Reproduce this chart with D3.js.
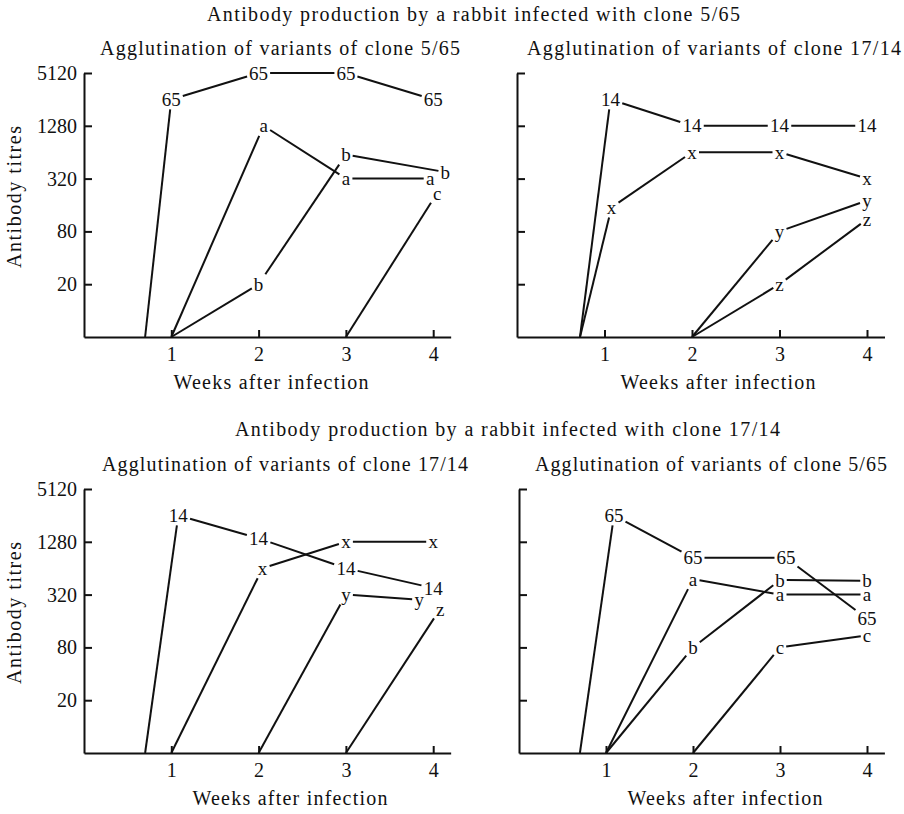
<!DOCTYPE html>
<html>
<head>
<meta charset="utf-8">
<script src="https://cdn.jsdelivr.net/npm/d3@7"></script>
<style>
  body { margin: 0; background: #fff; }
  svg text { font-family: "Liberation Serif", "Times New Roman", serif; fill: #111; }
</style>
</head>
<body>
<svg id="chart" width="904" height="814"></svg>
<script>
// weeks on the x axis and titre ticks on the y axis
const weeks = [1, 2, 3, 4]
const titreTicks = [20, 80, 320, 1280, 5120]

// rabbit infected with clone 5/65 -- variants of 5/65
const topLeftNames = ["65", "a", "b", "c"]
const topLeftStart = [0.7, 1, 1, 3]
const topLeftValues = [
    [2560, 5120, 5120, 2560],
    [null, 1280, 320, 320],
    [null, 20, 600, 380],
    [null, null, null, 220]
]
// rabbit infected with clone 5/65 -- variants of 17/14
const topRightNames = ["14", "x", "y", "z"]
const topRightStart = [0.72, 0.72, 2, 2]
const topRightValues = [
    [2560, 1280, 1280, 1280],
    [150, 640, 640, 320],
    [null, null, 80, 180],
    [null, null, 20, 110]
]
// rabbit infected with clone 17/14 -- variants of 17/14
const botLeftNames = ["14", "x", "y", "z"]
const botLeftStart = [0.7, 1, 2, 3]
const botLeftValues = [
    [2560, 1400, 640, 380],
    [null, 640, 1280, 1280],
    [null, null, 320, 280],
    [null, null, null, 220]
]
// rabbit infected with clone 17/14 -- variants of 5/65
const botRightNames = ["65", "a", "b", "c"]
const botRightStart = [0.7, 1, 1, 2]
const botRightValues = [
    [2560, 840, 840, 170],
    [null, 480, 320, 320],
    [null, 80, 470, 460],
    [null, null, 80, 110]
]

var svg = d3.select("#chart")

// small sideways nudges of labels so they don't sit on top of each other
var nudges = {
    tl: { "a1": 5, "a3": -3, "b3": 12, "c3": 4 },
    tr: { "140": 6, "x0": 7 },
    bl: { "140": 7, "x1": 4, "y3": -14, "z3": 7 },
    br: { "650": 8, "652": 6 }
}

function trim(p, q, hw, hh) {
    // move p toward q until it leaves the box round the label at p
    let dx = q[0] - p[0], dy = q[1] - p[1]
    let t = Math.min(hw / Math.max(Math.abs(dx), 1e-6), hh / Math.max(Math.abs(dy), 1e-6))
    return [p[0] + dx * t, p[1] + dy * t]
}

function drawPanel(opt) {
    var g = svg.append("g")
        .attr("transform", "translate(" + opt.left + "," + opt.top + ")")

    var x = d3.scaleLinear().domain([0, 4.2]).range([0, 4.2 * opt.step])
    var y = d3.scaleLog().base(2).domain([5, 5120]).range([264, 0])

    var yAxis = d3.axisLeft(y)
        .tickValues(titreTicks)
        .tickFormat(d3.format("d"))
        .tickSizeInner(-8)
        .tickSizeOuter(0)
        .tickPadding(7)
    if (!opt.yLabels) yAxis.tickFormat("")

    g.append("g").call(yAxis)
    g.append("g")
        .attr("transform", "translate(0,264)")
        .call(d3.axisBottom(x).tickValues(weeks).tickFormat(d3.format("d"))
            .tickSizeInner(-7).tickSizeOuter(0).tickPadding(10))

    g.selectAll(".domain, .tick line")
        .style("stroke", "#111")
        .style("stroke-width", 2)
    g.selectAll(".tick text")
        .style("font-size", "20px")
        .style("font-family", "'Liberation Serif', serif")
        .style("fill", "#111")

    opt.names.forEach((name, i) => {
        let pts = [{ px: x(opt.start[i]), py: y(5), label: false }]
        opt.values[i].forEach((v, j) => {
            if (v == null) return
            let dx = opt.nudge[name + j] || 0
            pts.push({ px: x(weeks[j]) + dx, py: y(v), label: true })
        })

        // labels act as the markers
        pts.filter(p => p.label).forEach(p => {
            let t = g.append("text")
                .attr("x", p.px)
                .attr("y", p.py)
                .attr("dy", "0.35em")
                .attr("text-anchor", "middle")
                .style("font-size", "19px")
                .text(name)
            p.hw = t.node().getBBox().width / 2 + 2
        })

        for (let k = 1; k < pts.length; k++) {
            let a = [pts[k - 1].px, pts[k - 1].py]
            let b = [pts[k].px, pts[k].py]
            let a2 = pts[k - 1].label ? trim(a, b, pts[k - 1].hw, 10) : a
            let b2 = pts[k].label ? trim(b, a, pts[k].hw, 10) : b
            g.append("line")
                .attr("x1", a2[0]).attr("y1", a2[1])
                .attr("x2", b2[0]).attr("y2", b2[1])
                .style("stroke", "#111")
                .style("stroke-width", 2)
        }
    })

    // x axis title
    g.append("text")
        .attr("x", opt.xTitleX - opt.left)
        .attr("y", 264 + 52)
        .attr("text-anchor", "middle")
        .attr("textLength", 195)
        .attr("lengthAdjust", "spacing")
        .style("font-size", "20px")
        .text("Weeks after infection")

    if (opt.yLabels) {
        g.append("text")
            .attr("transform", "translate(" + (21 - opt.left) + ",124) rotate(-90)")
            .attr("text-anchor", "middle")
            .attr("textLength", 142)
            .attr("lengthAdjust", "spacing")
            .style("font-size", "20px")
            .text("Antibody titres")
    }

    g.append("text")
        .attr("x", opt.subX - opt.left)
        .attr("y", -18)
        .attr("textLength", opt.subW)
        .attr("lengthAdjust", "spacing")
        .style("font-size", "20px")
        .text(opt.sub)
}

function title(txt, x0, w, yb) {
    svg.append("text")
        .attr("x", x0)
        .attr("y", yb)
        .attr("textLength", w)
        .attr("lengthAdjust", "spacing")
        .style("font-size", "20px")
        .text(txt)
}

title("Antibody production by a rabbit infected with clone 5/65", 207, 533, 21)
title("Antibody production by a rabbit infected with clone 17/14", 235, 545, 436)

drawPanel({ left: 84, top: 73, step: 87.3, yLabels: true, names: topLeftNames, start: topLeftStart,
    values: topLeftValues, nudge: nudges.tl, xTitleX: 271,
    sub: "Agglutination of variants of clone 5/65", subX: 100, subW: 360 })
drawPanel({ left: 517, top: 73, step: 87.5, yLabels: false, names: topRightNames, start: topRightStart,
    values: topRightValues, nudge: nudges.tr, xTitleX: 718,
    sub: "Agglutination of variants of clone 17/14", subX: 527, subW: 374 })
drawPanel({ left: 84, top: 489, step: 87.3, yLabels: true, names: botLeftNames, start: botLeftStart,
    values: botLeftValues, nudge: nudges.bl, xTitleX: 290,
    sub: "Agglutination of variants of clone 17/14", subX: 102, subW: 366 })
drawPanel({ left: 519, top: 489, step: 87, yLabels: false, names: botRightNames, start: botRightStart,
    values: botRightValues, nudge: nudges.br, xTitleX: 725,
    sub: "Agglutination of variants of clone 5/65", subX: 535, subW: 352 })
</script>
</body>
</html>
